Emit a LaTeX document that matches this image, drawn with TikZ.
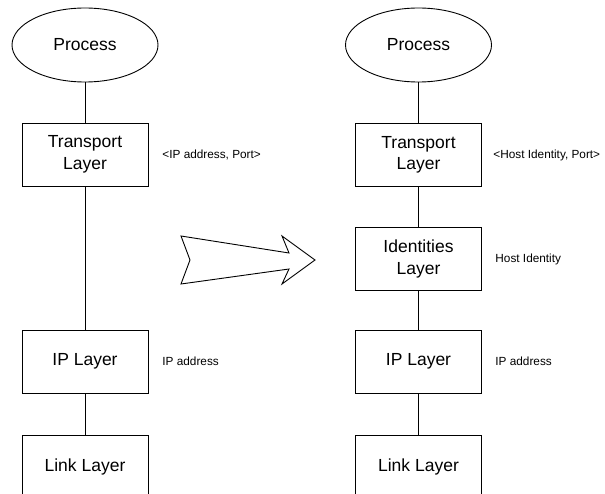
\documentclass[tikz,border=0pt]{standalone}
\usepackage{fontspec}
\setmainfont{Liberation Sans}
\usetikzlibrary{shapes.geometric}
\begin{document}
\begin{tikzpicture}[x=1pt,y=-1pt,line width=0.9pt,
  layerbox/.style={draw,rectangle,minimum width=126pt,minimum height=63pt,inner sep=0pt,align=center,font=\fontsize{17.5}{21.5}\selectfont},
  proc/.style={draw,ellipse,minimum width=146pt,minimum height=74pt,inner sep=0pt,font=\fontsize{17.5}{21.5}\selectfont},
  lbl/.style={anchor=west,inner sep=0pt,font=\fontsize{11.8}{14}\selectfont},
  conn/.style={draw}]
\path[use as bounding box] (0,0) rectangle (605,494);
\clip (0,0) rectangle (605,494);
% left stack
\node[proc] (pL) at (85,45) {Process};
\node[layerbox] (tL) at (85,154.5) {Transport\\Layer};
\node[layerbox] (iL) at (85,361.5) {IP Layer};
\node[layerbox] (kL) at (85,466.5) {Link Layer};
\node[lbl] (tlL) at (162,155) {<IP address, Port>};
\node[lbl] (ilL) at (162,361) {IP address};
\draw[conn] (pL) -- (tL);
\draw[conn] (tL) -- (iL);
\draw[conn] (iL) -- (kL);
% right stack
\node[proc] (pR) at (418.5,45) {Process};
\node[layerbox] (tR) at (418.5,155) {Transport\\Layer};
\node[layerbox] (hR) at (418.5,259) {Identities\\Layer};
\node[layerbox] (iR) at (418.5,361.5) {IP Layer};
\node[layerbox] (kR) at (418.5,466.5) {Link Layer};
\node[lbl] (tlR) at (493,155) {<Host Identity, Port>};
\node[lbl] (hlR) at (495,259) {Host Identity};
\node[lbl] (ilR) at (495,361) {IP address};
\draw[conn] (pR) -- (tR);
\draw[conn] (tR) -- (hR);
\draw[conn] (hR) -- (iR);
\draw[conn] (iR) -- (kR);
% big arrow
\draw[line join=miter] (181,236) -- (289,253) -- (282,236) -- (315,260) -- (282,284) -- (289,269) -- (181,284) -- (190,260) -- cycle;
\end{tikzpicture}
\end{document}
